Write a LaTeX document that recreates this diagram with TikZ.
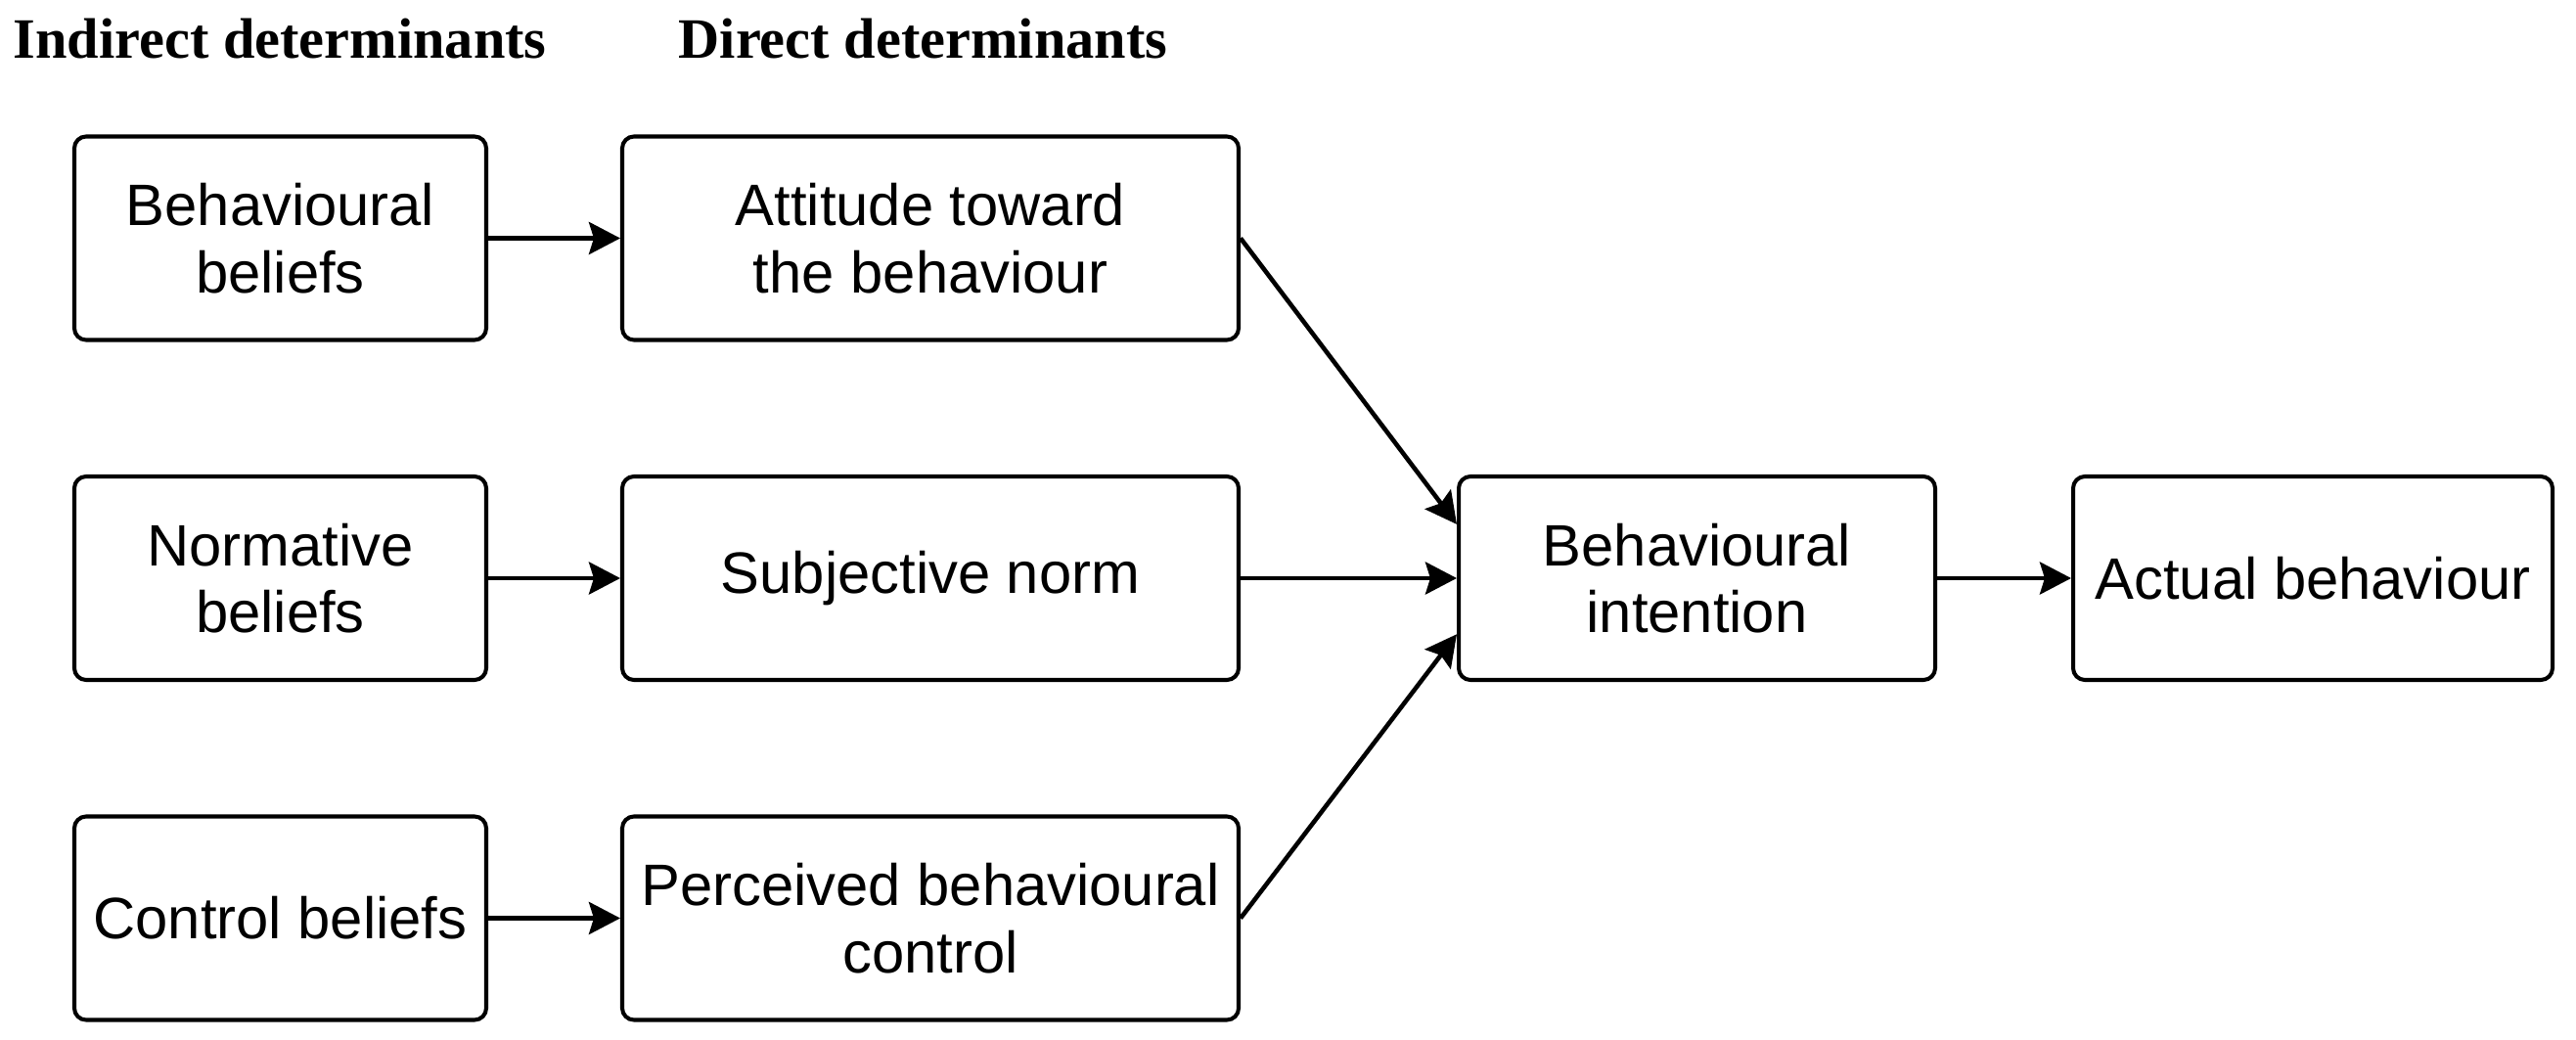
\documentclass[tikz,border=0pt]{standalone}
\usepackage{fontspec}
\setmainfont{Liberation Sans}
\newfontfamily\headfont{Liberation Serif}
\usetikzlibrary{arrows.meta,calc}

\begin{document}
\begin{tikzpicture}[
			box/.style={draw,line width=1.15pt,rounded corners=0.12cm,align=center,
				minimum height=2.08cm,inner sep=0pt,
				font=\fontsize{17}{19.5}\selectfont},
			head/.style={anchor=base west,inner sep=0pt,
				font=\headfont\bfseries\fontsize{16.6}{19}\selectfont},
			arr/.style={line width=1.3pt,-{Stealth[length=0.32cm,width=0.33cm,inset=0.05cm]}}
		]
		\useasboundingbox (0,0) rectangle (26.33,-10.63);

		% column headings
		\node[head] (hind) at (0.13,-0.60) {Indirect determinants};
		\node[head] (hdir) at (6.93,-0.60) {Direct determinants};

		% indirect determinants
		\node[box,minimum width=4.21cm] (bb) at (2.865,-2.435) {Behavioural\\beliefs};
		\node[box,minimum width=4.21cm] (nb) at (2.865,-5.91) {Normative\\beliefs};
		\node[box,minimum width=4.21cm] (cb) at (2.865,-9.385) {Control beliefs};

		% direct determinants
		\node[box,minimum width=6.30cm] (att) at (9.51,-2.435) {Attitude toward\\the behaviour};
		\node[box,minimum width=6.30cm] (sn) at (9.51,-5.91) {Subjective norm};
		\node[box,minimum width=6.30cm] (pbc) at (9.51,-9.385) {Perceived behavioural\\control};

		% intention and behaviour
		\node[box,minimum width=4.87cm] (bi) at (17.345,-5.91) {Behavioural\\intention};
		\node[box,minimum width=4.90cm] (ab) at (23.64,-5.91) {Actual behaviour};

		\draw[arr] (bb) -- (att);
		\draw[arr] (nb) -- (sn);
		\draw[arr] (cb) -- (pbc);
		\draw[arr] (att.east) -- ($(bi.north west)!0.24!(bi.south west)$);
		\draw[arr] (sn) -- (bi);
		\draw[arr] (pbc.east) -- ($(bi.north west)!0.77!(bi.south west)$);
		\draw[arr] (bi) -- (ab);
	\end{tikzpicture}
\end{document}
